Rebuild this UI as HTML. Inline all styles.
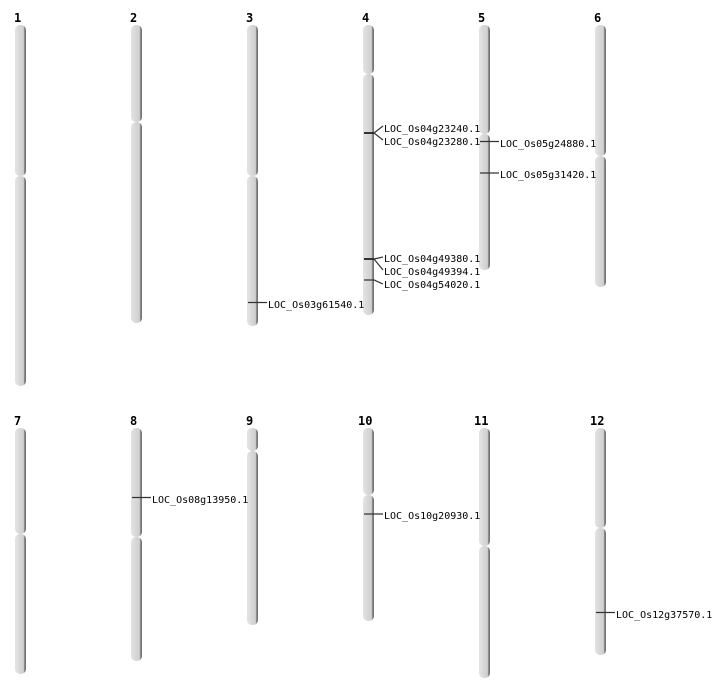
<!DOCTYPE html>
<html><head><meta charset="utf-8"><style>
html,body{margin:0;padding:0;background:#fff;}
svg{display:block;}
text{font-family:"DejaVu Sans Mono","Liberation Mono",monospace;font-size:10px;fill:#000;}
.n{font-family:"DejaVu Sans Mono","Liberation Mono",monospace;font-weight:bold;font-size:12px;}
</style></head><body>
<svg width="712" height="700" viewBox="0 0 712 700" xmlns="http://www.w3.org/2000/svg">
<defs>
<linearGradient id="g" x1="0" x2="1" y1="0" y2="0">
<stop offset="0" stop-color="#e4e4e4"/><stop offset="0.5" stop-color="#d6d6d6"/><stop offset="0.78" stop-color="#cfcfcf"/><stop offset="0.85" stop-color="#8a8a8a"/><stop offset="1" stop-color="#6a6a6a"/>
</linearGradient>
</defs>
<g fill="url(#g)">
<rect x="15" y="25" width="11" height="151" rx="5"/><rect x="15" y="176" width="11" height="210" rx="5"/>
<rect x="131" y="25" width="11" height="97" rx="5"/><rect x="131" y="122" width="11" height="201" rx="5"/>
<rect x="247" y="25" width="11" height="151" rx="5"/><rect x="247" y="176" width="11" height="150" rx="5"/>
<rect x="363" y="25" width="11" height="49" rx="5"/><rect x="363" y="74" width="11" height="241" rx="5"/>
<rect x="479" y="25" width="11" height="109" rx="5"/><rect x="479" y="134" width="11" height="136" rx="5"/>
<rect x="595" y="25" width="11" height="131" rx="5"/><rect x="595" y="156" width="11" height="131" rx="5"/>
<rect x="15" y="428" width="11" height="106" rx="5"/><rect x="15" y="534" width="11" height="140" rx="5"/>
<rect x="131" y="428" width="11" height="109" rx="5"/><rect x="131" y="537" width="11" height="124" rx="5"/>
<rect x="247" y="428" width="11" height="23" rx="5"/><rect x="247" y="451" width="11" height="174" rx="5"/>
<rect x="363" y="428" width="11" height="67" rx="5"/><rect x="363" y="495" width="11" height="126" rx="5"/>
<rect x="479" y="428" width="11" height="118" rx="5"/><rect x="479" y="546" width="11" height="132" rx="5"/>
<rect x="595" y="428" width="11" height="100" rx="5"/><rect x="595" y="528" width="11" height="127" rx="5"/>
</g>
<text class="n" x="14" y="22">1</text><text class="n" x="130" y="22">2</text><text class="n" x="246" y="22">3</text>
<text class="n" x="362" y="22">4</text><text class="n" x="478" y="22">5</text><text class="n" x="594" y="22">6</text>
<text class="n" x="14" y="425">7</text><text class="n" x="130" y="425">8</text><text class="n" x="246" y="425">9</text>
<text class="n" x="358" y="425">10</text><text class="n" x="474" y="425">11</text><text class="n" x="590" y="425">12</text>
<g stroke="#333" stroke-width="1.2" fill="none">
<line x1="248" y1="302.5" x2="267" y2="302.5"/>
<line x1="364" y1="133" x2="374" y2="133" stroke-width="2"/>
<polyline points="374,133 383,126"/><polyline points="374,133 383,140"/>
<line x1="364" y1="259" x2="374" y2="259" stroke-width="2"/>
<polyline points="374,259 383,257"/><polyline points="374,259 383,270"/>
<polyline points="364,280 374,280 383,284"/>
<line x1="480" y1="141.5" x2="499" y2="141.5"/>
<line x1="480" y1="173" x2="499" y2="173"/>
<line x1="132" y1="497.5" x2="151" y2="497.5"/>
<line x1="364" y1="514" x2="383" y2="514"/>
<line x1="596" y1="612.5" x2="615" y2="612.5"/>
</g>
<text x="268" y="308">LOC_Os03g61540.1</text>
<text x="384" y="132">LOC_Os04g23240.1</text>
<text x="384" y="145">LOC_Os04g23280.1</text>
<text x="384" y="262">LOC_Os04g49380.1</text>
<text x="384" y="275">LOC_Os04g49394.1</text>
<text x="384" y="288">LOC_Os04g54020.1</text>
<text x="500" y="147">LOC_Os05g24880.1</text>
<text x="500" y="178">LOC_Os05g31420.1</text>
<text x="152" y="503">LOC_Os08g13950.1</text>
<text x="384" y="519">LOC_Os10g20930.1</text>
<text x="616" y="618">LOC_Os12g37570.1</text>
</svg>
</body></html>
